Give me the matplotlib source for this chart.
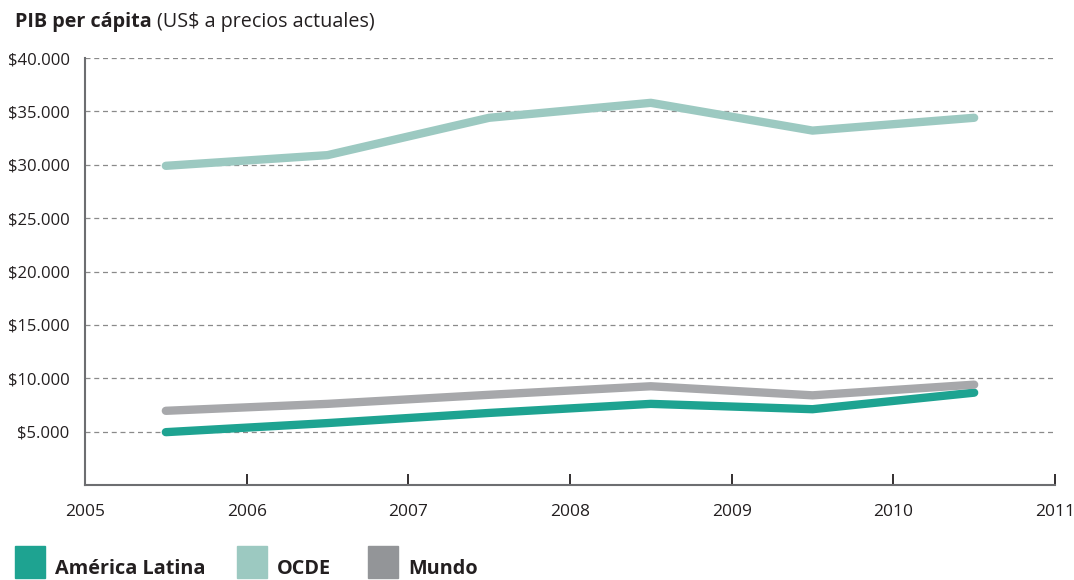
import matplotlib
matplotlib.use("Agg")
import matplotlib.pyplot as plt
from matplotlib.patches import Rectangle

years = [2005.5, 2006.5, 2007.5, 2008.5, 2009.5, 2010.5]
america_latina = [4950, 5800, 6750, 7600, 7100, 8650]
ocde = [29900, 30900, 34400, 35800, 33200, 34400]
mundo = [6950, 7600, 8450, 9250, 8400, 9400]

series_names = ["América Latina", "OCDE", "Mundo"]
line_colors = ["#1ea391", "#9cc9c1", "#a7a8ab"]
legend_colors = ["#1ea391", "#9cc9c1", "#939598"]

yticks = [5000, 10000, 15000, 20000, 25000, 30000, 35000, 40000]
ytick_labels = ["$5.000", "$10.000", "$15.000", "$20.000", "$25.000",
                "$30.000", "$35.000", "$40.000"]
xticks = [2005, 2006, 2007, 2008, 2009, 2010, 2011]

plt.rcParams["font.family"] = ["Open Sans", "DejaVu Sans"]

W, H = 1074, 580
fig = plt.figure(figsize=(W / 100, H / 100), dpi=100)
ax = fig.add_axes([85 / W, (H - 485) / H, (1055 - 85) / W, (485 - 58) / H])

for vals, col in zip([america_latina, ocde, mundo], line_colors):
    ax.plot(years, vals, color=col, lw=6.0, solid_capstyle="round",
            solid_joinstyle="round", zorder=3)

for y in yticks:
    ax.axhline(y, color="#8a8a8a", lw=0.9, ls=(0, (4, 3)), zorder=2)

ax.set_xlim(2005, 2011)
ax.set_ylim(0, 40000)
ax.set_yticks(yticks)
ax.set_yticklabels(ytick_labels)
ax.set_xticks(xticks)
ax.set_xticklabels([str(x) for x in xticks])

for s in ["top", "right"]:
    ax.spines[s].set_visible(False)
for s in ["left", "bottom"]:
    ax.spines[s].set_color("#6d6e71")
    ax.spines[s].set_linewidth(1.5)

ax.tick_params(axis="y", length=0, pad=11, labelsize=12, labelcolor="#231f20")
ax.tick_params(axis="x", direction="in", length=8, width=1.3, color="#231f20",
               pad=14, labelsize=12.5, labelcolor="#231f20")

fig.text(15 / W, 1 - 22 / H, "PIB per cápita", fontsize=14.2, fontweight="bold",
         color="#231f20", va="center", ha="left")
fig.text(157 / W, 1 - 22 / H, "(US$ a precios actuales)", fontsize=14.2,
         color="#231f20", va="center", ha="left")

legend_x = [15, 237, 368]
for x0, name, col in zip(legend_x, series_names, legend_colors):
    fig.patches.append(Rectangle((x0 / W, (H - 578) / H), 30 / W, 32 / H,
                                 transform=fig.transFigure, color=col))
    fig.text((x0 + 40) / W, 1 - 569 / H, name, fontsize=14.3, fontweight="bold",
             color="#231f20", va="center", ha="left")

fig.savefig("out.png", dpi=100)
